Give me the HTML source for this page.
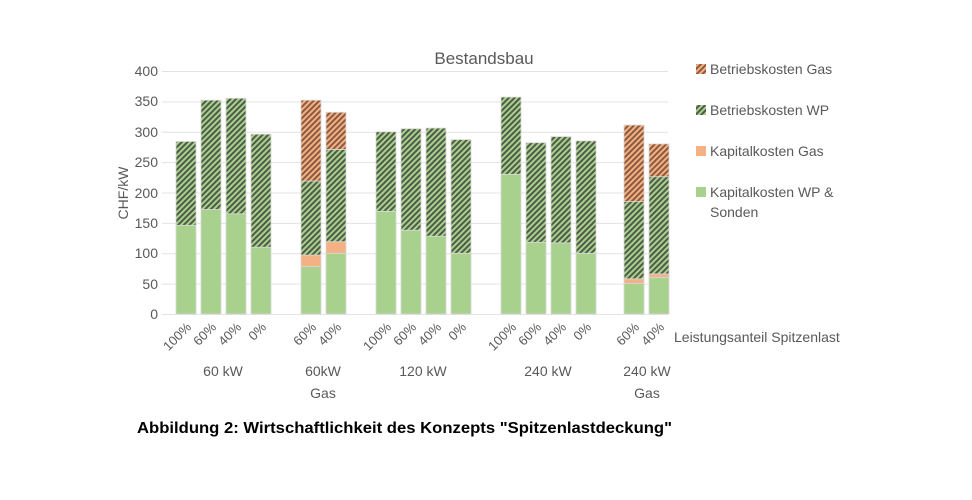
<!DOCTYPE html>
<html><head><meta charset="utf-8"><style>
html,body{margin:0;padding:0;background:#fff;}
svg{display:block;font-family:"Liberation Sans",Arial,sans-serif;}
</style></head><body>
<svg width="972" height="500" viewBox="0 0 972 500">
<defs>
<pattern id="hg" width="4" height="4" patternUnits="userSpaceOnUse" patternTransform="rotate(45)">
<rect width="4" height="4" fill="#a9d18e"/><rect width="2" height="4" fill="#4f5a48"/></pattern>
<pattern id="ho" width="4" height="4" patternUnits="userSpaceOnUse" patternTransform="rotate(45)">
<rect width="4" height="4" fill="#f4b183"/><rect width="2" height="4" fill="#8a5a40"/></pattern>
</defs>
<g stroke="#e3e3e3" stroke-width="1">
<line x1="162" x2="668" y1="71.5" y2="71.5"/><line x1="162" x2="668" y1="101.9" y2="101.9"/>
<line x1="162" x2="668" y1="132.2" y2="132.2"/><line x1="162" x2="668" y1="162.6" y2="162.6"/>
<line x1="162" x2="668" y1="193" y2="193"/><line x1="162" x2="668" y1="223.4" y2="223.4"/>
<line x1="162" x2="668" y1="253.7" y2="253.7"/><line x1="162" x2="668" y1="284.1" y2="284.1"/>
<line x1="162" x2="668" y1="314.5" y2="314.5"/>
</g>
<g fill="#595959" font-size="14" text-anchor="end">
<text x="158" y="76">400</text><text x="158" y="106">350</text><text x="158" y="137">300</text>
<text x="158" y="167">250</text><text x="158" y="198">200</text><text x="158" y="228">150</text>
<text x="158" y="258">100</text><text x="158" y="289">50</text><text x="158" y="319">0</text>
</g>
<text transform="translate(128,193) rotate(-90)" text-anchor="middle" fill="#595959" font-size="14">CHF/kW</text>
<text x="484" y="64" text-anchor="middle" fill="#595959" font-size="17">Bestandsbau</text>
<g stroke="#d8d8d8" stroke-width="0.8">
<rect x="176" y="225.3" width="20" height="88.7" fill="#a9d18e"/><rect x="176" y="141.5" width="20" height="83.8" fill="url(#hg)"/>
<rect x="201" y="209.5" width="20" height="104.5" fill="#a9d18e"/><rect x="201" y="100.2" width="20" height="109.3" fill="url(#hg)"/>
<rect x="226" y="213.8" width="20" height="100.2" fill="#a9d18e"/><rect x="226" y="98.3" width="20" height="115.5" fill="url(#hg)"/>
<rect x="251" y="247.2" width="20" height="66.8" fill="#a9d18e"/><rect x="251" y="134.2" width="20" height="113" fill="url(#hg)"/>
<rect x="301" y="266.6" width="20" height="47.4" fill="#a9d18e"/><rect x="301" y="255.1" width="20" height="11.5" fill="#f4b183"/><rect x="301" y="181" width="20" height="74.1" fill="url(#hg)"/><rect x="301" y="100.2" width="20" height="80.8" fill="url(#ho)"/>
<rect x="326" y="253.3" width="20" height="60.7" fill="#a9d18e"/><rect x="326" y="241.7" width="20" height="11.6" fill="#f4b183"/><rect x="326" y="149.4" width="20" height="92.3" fill="url(#hg)"/><rect x="326" y="112.3" width="20" height="37.1" fill="url(#ho)"/>
<rect x="376" y="211.3" width="20" height="102.7" fill="#a9d18e"/><rect x="376" y="131.8" width="20" height="79.5" fill="url(#hg)"/>
<rect x="401" y="230.2" width="20" height="83.8" fill="#a9d18e"/><rect x="401" y="128.7" width="20" height="101.5" fill="url(#hg)"/>
<rect x="426" y="236.2" width="20" height="77.8" fill="#a9d18e"/><rect x="426" y="128.1" width="20" height="108.1" fill="url(#hg)"/>
<rect x="451" y="253.3" width="20" height="60.7" fill="#a9d18e"/><rect x="451" y="139.6" width="20" height="113.7" fill="url(#hg)"/>
<rect x="501" y="174.3" width="20" height="139.7" fill="#a9d18e"/><rect x="501" y="97.1" width="20" height="77.2" fill="url(#hg)"/>
<rect x="526" y="242.3" width="20" height="71.7" fill="#a9d18e"/><rect x="526" y="142.7" width="20" height="99.6" fill="url(#hg)"/>
<rect x="551" y="242.9" width="20" height="71.1" fill="#a9d18e"/><rect x="551" y="136.6" width="20" height="106.3" fill="url(#hg)"/>
<rect x="576" y="253.3" width="20" height="60.7" fill="#a9d18e"/><rect x="576" y="140.9" width="20" height="112.4" fill="url(#hg)"/>
<rect x="624" y="283.6" width="20" height="30.4" fill="#a9d18e"/><rect x="624" y="278.8" width="20" height="4.8" fill="#f4b183"/><rect x="624" y="201.6" width="20" height="77.2" fill="url(#hg)"/><rect x="624" y="125.1" width="20" height="76.5" fill="url(#ho)"/>
<rect x="649" y="277.5" width="20" height="36.5" fill="#a9d18e"/><rect x="649" y="273.9" width="20" height="3.6" fill="#f4b183"/><rect x="649" y="176.7" width="20" height="97.2" fill="url(#hg)"/><rect x="649" y="143.9" width="20" height="32.8" fill="url(#ho)"/>
</g>
<g fill="#595959" font-size="13" text-anchor="end">
<text transform="translate(192,328) rotate(-45)">100%</text>
<text transform="translate(217,328) rotate(-45)">60%</text>
<text transform="translate(242,328) rotate(-45)">40%</text>
<text transform="translate(267,328) rotate(-45)">0%</text>
<text transform="translate(317,328) rotate(-45)">60%</text>
<text transform="translate(342,328) rotate(-45)">40%</text>
<text transform="translate(392,328) rotate(-45)">100%</text>
<text transform="translate(417,328) rotate(-45)">60%</text>
<text transform="translate(442,328) rotate(-45)">40%</text>
<text transform="translate(467,328) rotate(-45)">0%</text>
<text transform="translate(517,328) rotate(-45)">100%</text>
<text transform="translate(542,328) rotate(-45)">60%</text>
<text transform="translate(567,328) rotate(-45)">40%</text>
<text transform="translate(592,328) rotate(-45)">0%</text>
<text transform="translate(640,328) rotate(-45)">60%</text>
<text transform="translate(665,328) rotate(-45)">40%</text>
</g>
<g fill="#595959" font-size="14" text-anchor="middle">
<text x="223" y="376">60 kW</text>
<text x="323" y="376">60kW</text><text x="323" y="398">Gas</text>
<text x="423" y="376">120 kW</text>
<text x="548" y="376">240 kW</text>
<text x="647" y="376">240 kW</text><text x="647" y="398">Gas</text>
<text x="674" y="342" text-anchor="start">Leistungsanteil Spitzenlast</text>
</g>
<g font-size="14" fill="#595959">
<rect x="696" y="64" width="10" height="10" fill="url(#ho)"/><text x="710" y="74">Betriebskosten Gas</text>
<rect x="696" y="105" width="10" height="10" fill="url(#hg)"/><text x="710" y="115">Betriebskosten WP</text>
<rect x="696" y="146" width="10" height="10" fill="#f4b183"/><text x="710" y="156">Kapitalkosten Gas</text>
<rect x="696" y="187" width="10" height="10" fill="#a9d18e"/><text x="710" y="197">Kapitalkosten WP &amp;</text>
<text x="710" y="217">Sonden</text>
</g>
<text x="137" y="433" font-size="16" font-weight="bold" fill="#000" textLength="535" lengthAdjust="spacingAndGlyphs">Abbildung 2: Wirtschaftlichkeit des Konzepts "Spitzenlastdeckung"</text>
</svg>
</body></html>
